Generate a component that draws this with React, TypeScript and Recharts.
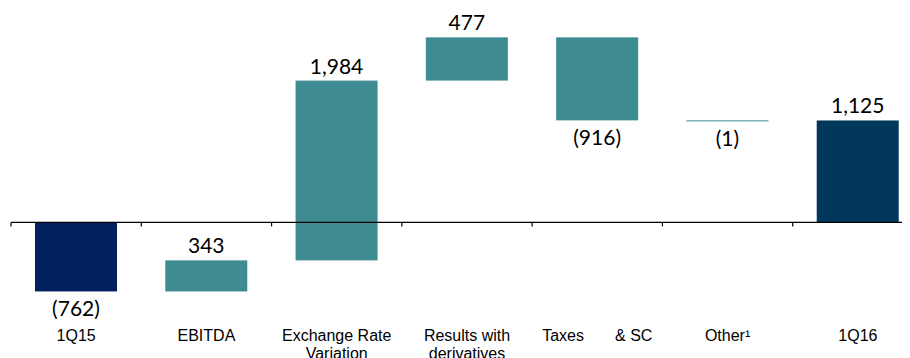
import React from "react";
import { BarChart, Bar, XAxis, YAxis, Cell, LabelList, ReferenceLine } from "recharts";

// waterfall: first and last are totals, the rest are changes
const categories = [
  "1Q15",
  "EBITDA",
  "Exchange Rate\nVariation",
  "Results with\nderivatives",
  "Taxes       & SC",
  "Other\u00b9",
  "1Q16",
];
const changes = [-762, 343, 1984, 477, -916, -1, 1125];
const isTotal = [true, false, false, false, false, false, true];

const COLORS = { start: "#03205E", end: "#01375A", step: "#3E8B91" };

let running = 0;
const chartData = categories.map((name, i) => {
  const v = changes[i];
  let from: number;
  let to: number;
  if (isTotal[i]) {
    from = 0;
    to = v;
  } else {
    from = running;
    to = running + v;
  }
  running = to;
  return { name, value: v, range: [Math.min(from, to), Math.max(from, to)] };
});

const formatValue = (v: number) =>
  v < 0 ? `(${Math.abs(v).toLocaleString("en-US")})` : v.toLocaleString("en-US");

function CategoryTick(props: any) {
  const { x, y, payload } = props;
  const lines = String(payload.value).split("\n");
  return (
    <text
      x={x}
      y={y}
      textAnchor="middle"
      fontFamily="'Liberation Sans', Arial, sans-serif"
      fontSize={16}
      fill="#000"
      style={{ whiteSpace: "pre" }}
    >
      {lines.map((l, i) => (
        <tspan key={i} x={x} dy={i === 0 ? 28 : 18}>
          {l}
        </tspan>
      ))}
    </text>
  );
}

function ValueLabel(props: any) {
  const { x, y, width, height, index } = props;
  const v = changes[index];
  const cx = x + width / 2;
  const ty = v >= 0 ? y - 7 : y + Math.max(height, 1) + 25;
  return (
    <text x={cx} y={ty} textAnchor="middle" fontFamily="Lato, sans-serif" fontSize={21} fill="#000">
      {formatValue(v)}
    </text>
  );
}

function BarShape(props: any) {
  const { x, y, width, height, fill } = props;
  return <rect x={x} y={y} width={width} height={Math.max(height, 1)} fill={fill} />;
}

function ZeroLine(props: any) {
  const { x1, x2, y1 } = props;
  const step = (x2 - x1) / categories.length;
  return (
    <g>
      <line x1={x1} x2={x2} y1={y1} y2={y1} stroke="#000" strokeWidth={1.2} />
      {categories.map((_, i) => (
        <line key={i} x1={x1 + i * step} x2={x1 + i * step} y1={y1} y2={y1 + 4} stroke="#000" strokeWidth={1.2} />
      ))}
    </g>
  );
}

export default function App() {
  return (
    <div style={{ width: 900, height: 350, overflow: "hidden" }}>
      <BarChart
        width={915}
        height={350}
        data={chartData}
        margin={{ top: 6, right: 0, left: 3, bottom: 0 }}
      >
        <XAxis
          dataKey="name"
          height={45}
          axisLine={false}
          tickLine={false}
          tickSize={0}
          tickMargin={0}
          interval={0}
          tick={<CategoryTick />}
        />
        <YAxis hide domain={[-1000, 2300]} />
        <Bar dataKey="range" barSize={82} isAnimationActive={false} shape={<BarShape />}>
          {chartData.map((_, i) => (
            <Cell
              key={i}
              fill={i === 0 ? COLORS.start : i === categories.length - 1 ? COLORS.end : COLORS.step}
            />
          ))}
          <LabelList dataKey="value" content={<ValueLabel />} />
        </Bar>
        <ReferenceLine y={0} shape={<ZeroLine />} />
      </BarChart>
    </div>
  );
}
